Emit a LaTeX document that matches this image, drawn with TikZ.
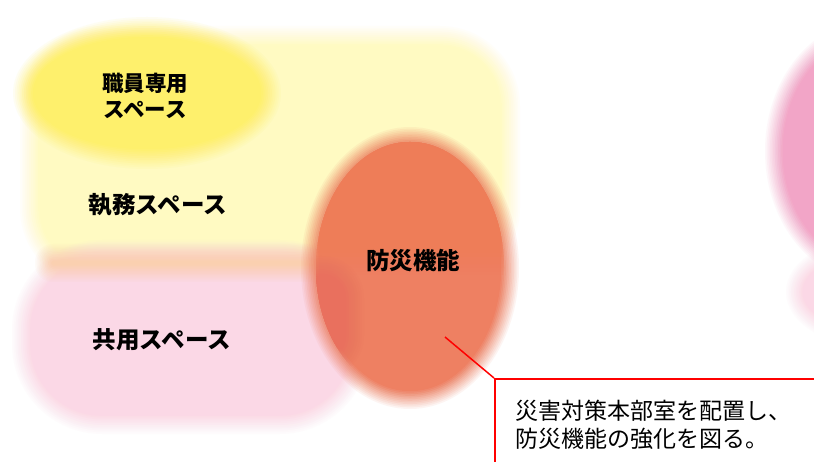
\documentclass[tikz,border=0pt]{standalone}
\usepackage{fontspec}
\newfontfamily\jp{Noto Sans CJK JP}
\definecolor{ly}{HTML}{FFFAC2}
\definecolor{by}{HTML}{FEF06C}
\definecolor{pk}{HTML}{FBD8E6}
\definecolor{pc}{HTML}{FAD0B0}
\definecolor{og}{HTML}{EE8062}
\definecolor{ogy}{HTML}{EE7D58}
\definecolor{ogp}{HTML}{E9705E}
\definecolor{dp}{HTML}{F2A5C7}
\definecolor{cr}{HTML}{FF0000}
% soft blobs: 12 stacked layers whose opacities give a linear edge ramp
\newcommand\blobE[6]{%
  \foreach \i in {0,...,11}{%
    \pgfmathsetmacro\dd{-#6+\i*2*#6/11}%
    \pgfmathsetmacro\ra{#3+\dd}\pgfmathsetmacro\rb{#4+\dd}%
    \pgfmathsetmacro\op{1/(\i+1)}%
    \fill[#5, opacity=\op] (#1,#2) ellipse [x radius=\ra, y radius=\rb];
  }}
\newcommand\blobR[7]{%
  \foreach \i in {0,...,11}{%
    \pgfmathsetmacro\dd{-#7+\i*2*#7/11}%
    \pgfmathsetmacro\xa{#1-\dd}\pgfmathsetmacro\xb{#3+\dd}%
    \pgfmathsetmacro\ya{#2-\dd}\pgfmathsetmacro\yb{#4+\dd}%
    \pgfmathsetmacro\rr{max(#5+\dd,0.1)}%
    \pgfmathsetmacro\op{1/(\i+1)}%
    \fill[#6, opacity=\op, rounded corners=\rr pt] (\xa,\ya) rectangle (\xb,\yb);
  }}
\tikzset{
  lbl/.style={font=\jp\bfseries\fontsize{23.5}{26}\selectfont, align=center, inner sep=0pt, text=black},
  lblsmall/.style={lbl, font=\jp\bfseries\fontsize{21.5}{26}\selectfont},
  note/.style={font=\jp\fontsize{23}{28}\selectfont, align=left, inner sep=0pt, text=black},
  callbox/.style={draw=cr, line width=1.5pt, fill=white, anchor=north west, minimum width=360pt, minimum height=120pt, inner sep=0pt},
  callline/.style={draw=cr, line width=1.5pt}
}
\begin{document}
\begin{tikzpicture}[x=1pt,y=-1pt]
\fill[white] (0,0) rectangle (814,462);
\useasboundingbox (0,0) rectangle (814,462);
% light yellow office blob
\blobR{30}{36}{510}{278}{70}{ly}{10}
% bright yellow staff blob
\blobE{147}{93}{124}{66}{by}{10}
% pink common blob
\blobR{22}{250}{360}{424}{80}{pk}{10}
% peach band where pink meets yellow
\blobR{44}{253}{380}{273}{9}{pc}{9}
% orange disaster blob
\blobE{410}{268}{100}{132}{og}{9}
\begin{scope}
  \clip (410,268) ellipse [x radius=94, y radius=126];
  \blobR{280}{60}{540}{255}{20}{ogy}{20}
  \blobR{290}{268}{352}{366}{30}{ogp}{12}
\end{scope}
% right blobs
\blobE{870}{292}{75}{45}{pk}{9}
\blobE{872}{151}{98}{122}{dp}{9}
% labels
\node[lblsmall] (staff) at (145,96) {職員専用\\スペース};
\node[lbl] (office) at (158,205) {執務スペース};
\node[lbl] (bousai) at (413,261) {防災機能};
\node[lbl] (common) at (162,340) {共用スペース};
% callout
\node[callbox] (box) at (494,378) {};
\node[note, anchor=west] (notetext) at (515,425) {災害対策本部室を配置し、\\防災機能の強化を図る。};
\coordinate (tip) at (445,337);
\draw[callline] (tip) -- (box.north west);
\end{tikzpicture}
\end{document}
